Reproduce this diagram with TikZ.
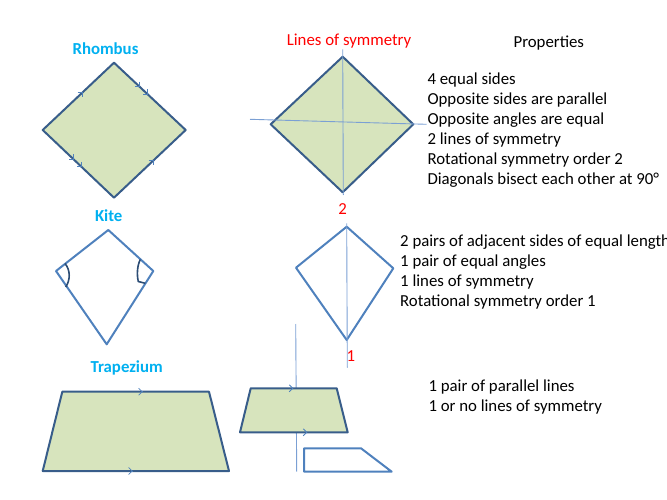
\documentclass[tikz,border=0pt]{standalone}
\usepackage{fontspec}
\setmainfont{Carlito}
\usetikzlibrary{arrows.meta}

\definecolor{cor_fill}{HTML}{D7E4BD}
\definecolor{cor_dark}{HTML}{385D8A}
\definecolor{cor_blue}{HTML}{4F81BD}
\definecolor{cor_line}{HTML}{7BA0D4}
\definecolor{cor_arc}{HTML}{2C4D75}
\definecolor{cor_title}{HTML}{00B0F0}
\definecolor{cor_red}{named}{red}

\begin{document}
\begin{tikzpicture}[x=1pt,y=-1pt]
        \tikzset{
            forma/.style={
                draw=#1,
                line width=2pt,
                line join=round
            },
            cheia/.style={
                forma=cor_dark,
                fill=cor_fill
            },
            simetria/.style={
                draw=cor_line,
                line width=0.9pt
            },
            chev/.style={
                draw=cor_blue,
                line width=0.8pt,
                -{Straight Barb[length=3.5pt,width=7pt]}
            },
            titulo/.style={
                text=#1,
                font=\fontsize{16.8}{20}\selectfont\bfseries,
                inner sep=0pt
            },
            texto/.style={
                font=\fontsize{16.8}{20}\selectfont,
                inner sep=0pt,
                align=left,
                anchor=west
            }
        }
        \useasboundingbox (0,0) rectangle (667,500);


        %losango
        \draw[cheia] (114,62.7) -- (185.7,130) -- (114,197.7) -- (42.7,130) -- cycle;
        \draw[chev] (82.3,92.7) -- (83,92);
        \draw[chev] (139.3,86.4) -- (140,87.1);
        \draw[chev] (147.3,94) -- (148,94.7);
        \draw[chev] (73.3,159) -- (74,159.7);
        \draw[chev] (81.3,166.6) -- (82,167.3);
        \draw[chev] (153.3,160.8) -- (154,160.1);
        \node[titulo=cor_title] (rhombus) at (105.5,49) {Rhombus};

        \draw[cheia] (342.7,56.7) -- (413.3,124.3) -- (342.7,192.3) -- (270.7,124.3) -- cycle;
        \draw[simetria] (342.7,49.3) -- (343.3,195);
        \draw[simetria] (250,119.3) -- (426.7,124.3);
        \node[titulo=cor_red, font=\fontsize{16.8}{20}\selectfont] (linhas) at (349,40.7) {Lines of symmetry};
        \node[text=cor_red, font=\fontsize{16.8}{20}\selectfont, inner sep=0pt] (dois) at (342.7,209.3) {2};

        \node[font=\fontsize{16.8}{20}\selectfont, inner sep=0pt] (props) at (548.8,42.7) {Properties};
        \node[texto] (proplosango) at (427.3,130) {4 equal sides\\Opposite sides are parallel\\Opposite angles are equal\\2 lines of symmetry\\Rotational symmetry order 2\\Diagonals bisect each other at 90°};


        %pipa
        \draw[forma=cor_blue] (108.3,230) -- (153.3,271) -- (106.7,344.3) -- (56,271) -- cycle;
        \draw[cor_arc, line width=1.6pt] (65,263.5) .. controls (70.5,270) and (70.5,280) .. (65.7,287);
        \draw[cor_arc, line width=1.6pt] (140.3,259.5) .. controls (137,266) and (136.8,275) .. (138.3,281.5) -- (145.3,283.3);
        \node[titulo=cor_title] (kite) at (108.7,216) {Kite};

        \draw[forma=cor_blue] (346.7,226.7) -- (393.3,268.3) -- (346.7,340) -- (296,267.7) -- cycle;
        \draw[simetria] (346.7,223.3) -- (347.3,367.7);
        \node[text=cor_red, font=\fontsize{16.8}{20}\selectfont, inner sep=0pt] (um) at (350.8,356.5) {1};
        \node[texto] (proppipa) at (400,272.5) {2 pairs of adjacent sides of equal length\\1 pair of equal angles\\1 lines of symmetry\\Rotational symmetry order 1};


        %trapezio
        \draw[cheia] (62.3,391.7) -- (209,391.7) -- (229,471) -- (42.7,471) -- cycle;
        \draw[chev] (141.7,391.7) -- (142.7,391.7);
        \draw[chev] (131.7,471) -- (132.7,471);
        \node[titulo=cor_title] (trapezium) at (126.7,368.3) {Trapezium};

        \draw[simetria] (295.7,324) -- (296.7,471.7);
        \draw[cheia] (250.7,388.3) -- (336.7,388.3) -- (347.7,432.3) -- (240,432.3) -- cycle;
        \draw[chev] (292.3,388.3) -- (293.3,388.3);
        \draw[chev] (306.3,432.3) -- (307.3,432.3);
        \draw[forma=cor_blue] (304,448.3) -- (361,448.3) -- (391.7,471.7) -- (304,471.7) -- cycle;

        \node[texto] (proptrapezio) at (428.3,397.5) {1 pair of parallel lines\\1 or no lines of symmetry};

    \end{tikzpicture}
\end{document}
